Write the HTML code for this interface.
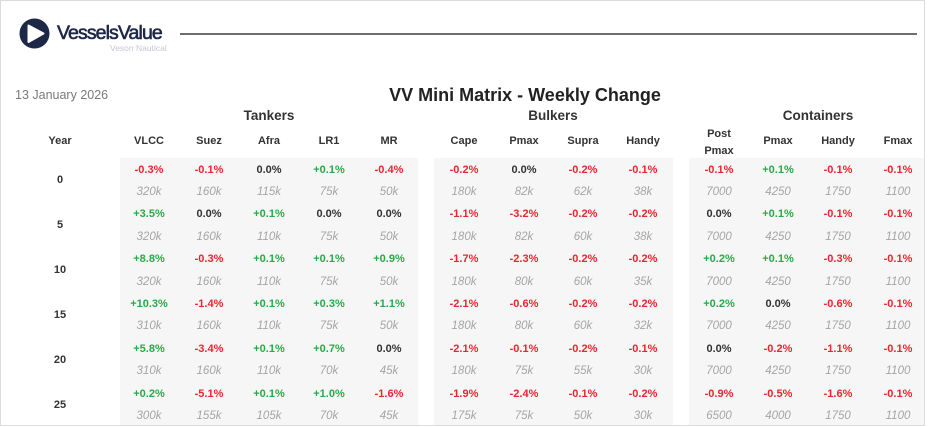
<!DOCTYPE html>
<html><head><meta charset="utf-8"><style>
*{margin:0;padding:0;box-sizing:border-box}
body{width:928px;height:427px;background:#fff;position:relative;overflow:hidden;font-family:"Liberation Sans",Arial,sans-serif}
.frame{position:absolute;left:0;top:0;width:925px;height:426px;border:1px solid #dcdcdc}
.abs{position:absolute}
.panel{position:absolute;top:158px;height:267px;background:#f6f6f6}
.ln{position:absolute;left:0;width:928px;height:14px;line-height:14px;font-size:11px}
.ln span{position:absolute;width:60px;text-align:center;top:0}
.p span{font-weight:bold}
.v span{font-style:italic;color:#a5a5a5;font-size:11.5px}
.r{color:#e8262f}.g{color:#2aa84a}.k{color:#333}
.a{left:119px}.b{left:179px}.c{left:239px}.d{left:299px}.e{left:359px}
.f{left:434px}.h{left:494px}.i{left:553px}.j{left:613px}
.l{left:689px}.m{left:748px}.n{left:808px}.o{left:868px}
.hd{position:absolute;font-size:11px;font-weight:bold;color:#333;width:60px;text-align:center;line-height:14px}
.yr{position:absolute;left:40px;width:40px;text-align:center;font-size:11px;font-weight:bold;color:#333;line-height:14px}
.grp{position:absolute;font-size:13.5px;font-weight:bold;color:#333;text-align:center;line-height:16px}
</style></head><body>
<div class="frame"></div>
<!-- logo -->
<svg class="abs" style="left:19px;top:18px" width="31" height="31" viewBox="0 0 31 31">
<circle cx="15.5" cy="15.5" r="15" fill="#1d2747"/>
<path d="M9.5 7.5 L24.5 15.5 L9.5 24 Z" fill="#fff" stroke="#fff" stroke-width="2" stroke-linejoin="round"/>
</svg>
<div class="abs" style="left:57px;top:21px;font-size:19.5px;color:#1d2747;letter-spacing:-0.9px;line-height:24px;-webkit-text-stroke:0.6px #1d2747">VesselsValue</div>
<div class="abs" style="left:110px;top:43px;font-size:8.5px;color:#c3c7cf;line-height:10px">Veson Nautical</div>
<div class="abs" style="left:180px;top:33px;width:737px;height:1.5px;background:#6f6f6f"></div>
<div class="abs" style="left:15px;top:87px;font-size:12.5px;color:#7a7a7a;line-height:16px">13 January 2026</div>
<div class="abs" style="left:300px;top:84px;width:450px;text-align:center;font-size:18px;font-weight:bold;color:#222;line-height:22px">VV Mini Matrix - Weekly Change</div>

<div class="panel" style="left:120px;width:298px"></div>
<div class="panel" style="left:434px;width:239px"></div>
<div class="panel" style="left:689px;width:235px"></div>

<div class="grp" style="left:219px;top:108px;width:100px">Tankers</div>
<div class="grp" style="left:503px;top:108px;width:100px">Bulkers</div>
<div class="grp" style="left:758px;top:108px;width:120px">Containers</div>

<div class="hd" style="left:30px;top:134px">Year</div>
<div class="hd a" style="top:134px">VLCC</div>
<div class="hd b" style="top:134px">Suez</div>
<div class="hd c" style="top:134px">Afra</div>
<div class="hd d" style="top:134px">LR1</div>
<div class="hd e" style="top:134px">MR</div>
<div class="hd f" style="top:134px">Cape</div>
<div class="hd h" style="top:134px">Pmax</div>
<div class="hd i" style="top:134px">Supra</div>
<div class="hd j" style="top:134px">Handy</div>
<div class="hd l" style="top:126px;line-height:17px">Post<br>Pmax</div>
<div class="hd m" style="top:134px">Pmax</div>
<div class="hd n" style="top:134px">Handy</div>
<div class="hd o" style="top:134px">Fmax</div>

<div class="yr" style="top:173px">0</div>
<div class="yr" style="top:218px">5</div>
<div class="yr" style="top:263px">10</div>
<div class="yr" style="top:308px">15</div>
<div class="yr" style="top:353px">20</div>
<div class="yr" style="top:398px">25</div>

<!-- 0 -->
<div class="ln p" style="top:163px"><span class="a r">-0.3%</span><span class="b r">-0.1%</span><span class="c k">0.0%</span><span class="d g">+0.1%</span><span class="e r">-0.4%</span><span class="f r">-0.2%</span><span class="h k">0.0%</span><span class="i r">-0.2%</span><span class="j r">-0.1%</span><span class="l r">-0.1%</span><span class="m g">+0.1%</span><span class="n r">-0.1%</span><span class="o r">-0.1%</span></div>
<div class="ln v" style="top:185px"><span class="a">320k</span><span class="b">160k</span><span class="c">115k</span><span class="d">75k</span><span class="e">50k</span><span class="f">180k</span><span class="h">82k</span><span class="i">62k</span><span class="j">38k</span><span class="l">7000</span><span class="m">4250</span><span class="n">1750</span><span class="o">1100</span></div>
<!-- 5 -->
<div class="ln p" style="top:207px"><span class="a g">+3.5%</span><span class="b k">0.0%</span><span class="c g">+0.1%</span><span class="d k">0.0%</span><span class="e k">0.0%</span><span class="f r">-1.1%</span><span class="h r">-3.2%</span><span class="i r">-0.2%</span><span class="j r">-0.2%</span><span class="l k">0.0%</span><span class="m g">+0.1%</span><span class="n r">-0.1%</span><span class="o r">-0.1%</span></div>
<div class="ln v" style="top:230px"><span class="a">320k</span><span class="b">160k</span><span class="c">110k</span><span class="d">75k</span><span class="e">50k</span><span class="f">180k</span><span class="h">82k</span><span class="i">60k</span><span class="j">38k</span><span class="l">7000</span><span class="m">4250</span><span class="n">1750</span><span class="o">1100</span></div>
<!-- 10 -->
<div class="ln p" style="top:252px"><span class="a g">+8.8%</span><span class="b r">-0.3%</span><span class="c g">+0.1%</span><span class="d g">+0.1%</span><span class="e g">+0.9%</span><span class="f r">-1.7%</span><span class="h r">-2.3%</span><span class="i r">-0.2%</span><span class="j r">-0.2%</span><span class="l g">+0.2%</span><span class="m g">+0.1%</span><span class="n r">-0.3%</span><span class="o r">-0.1%</span></div>
<div class="ln v" style="top:275px"><span class="a">320k</span><span class="b">160k</span><span class="c">110k</span><span class="d">75k</span><span class="e">50k</span><span class="f">180k</span><span class="h">80k</span><span class="i">60k</span><span class="j">35k</span><span class="l">7000</span><span class="m">4250</span><span class="n">1750</span><span class="o">1100</span></div>
<!-- 15 -->
<div class="ln p" style="top:297px"><span class="a g">+10.3%</span><span class="b r">-1.4%</span><span class="c g">+0.1%</span><span class="d g">+0.3%</span><span class="e g">+1.1%</span><span class="f r">-2.1%</span><span class="h r">-0.6%</span><span class="i r">-0.2%</span><span class="j r">-0.2%</span><span class="l g">+0.2%</span><span class="m k">0.0%</span><span class="n r">-0.6%</span><span class="o r">-0.1%</span></div>
<div class="ln v" style="top:319px"><span class="a">310k</span><span class="b">160k</span><span class="c">110k</span><span class="d">75k</span><span class="e">50k</span><span class="f">180k</span><span class="h">80k</span><span class="i">60k</span><span class="j">32k</span><span class="l">7000</span><span class="m">4250</span><span class="n">1750</span><span class="o">1100</span></div>
<!-- 20 -->
<div class="ln p" style="top:342px"><span class="a g">+5.8%</span><span class="b r">-3.4%</span><span class="c g">+0.1%</span><span class="d g">+0.7%</span><span class="e k">0.0%</span><span class="f r">-2.1%</span><span class="h r">-0.1%</span><span class="i r">-0.2%</span><span class="j r">-0.1%</span><span class="l k">0.0%</span><span class="m r">-0.2%</span><span class="n r">-1.1%</span><span class="o r">-0.1%</span></div>
<div class="ln v" style="top:364px"><span class="a">310k</span><span class="b">160k</span><span class="c">110k</span><span class="d">70k</span><span class="e">45k</span><span class="f">180k</span><span class="h">75k</span><span class="i">55k</span><span class="j">30k</span><span class="l">7000</span><span class="m">4250</span><span class="n">1750</span><span class="o">1100</span></div>
<!-- 25 -->
<div class="ln p" style="top:387px"><span class="a g">+0.2%</span><span class="b r">-5.1%</span><span class="c g">+0.1%</span><span class="d g">+1.0%</span><span class="e r">-1.6%</span><span class="f r">-1.9%</span><span class="h r">-2.4%</span><span class="i r">-0.1%</span><span class="j r">-0.2%</span><span class="l r">-0.9%</span><span class="m r">-0.5%</span><span class="n r">-1.6%</span><span class="o r">-0.1%</span></div>
<div class="ln v" style="top:409px"><span class="a">300k</span><span class="b">155k</span><span class="c">105k</span><span class="d">70k</span><span class="e">45k</span><span class="f">175k</span><span class="h">75k</span><span class="i">50k</span><span class="j">30k</span><span class="l">6500</span><span class="m">4000</span><span class="n">1750</span><span class="o">1100</span></div>
</body></html>
